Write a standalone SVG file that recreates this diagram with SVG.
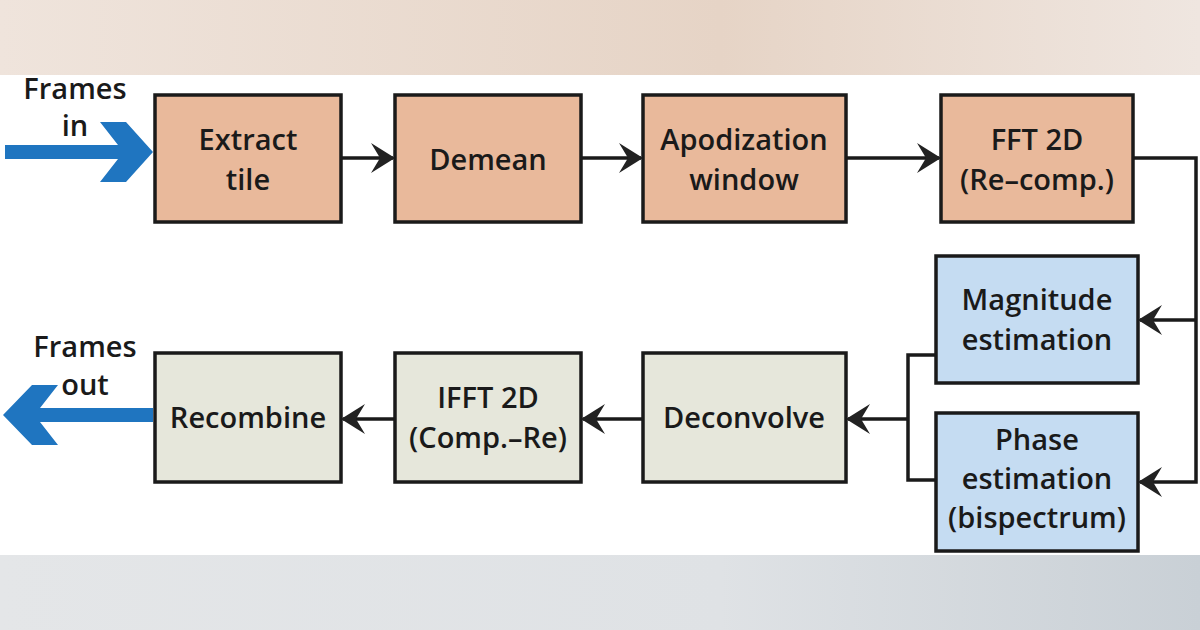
<svg xmlns="http://www.w3.org/2000/svg" width="1200" height="630" viewBox="0 0 1200 630">
<defs>
<linearGradient id="top" x1="0" x2="1"><stop offset="0" stop-color="#efe4dc"/><stop offset="0.6" stop-color="#e6d4c6"/><stop offset="1" stop-color="#efe6e0"/></linearGradient>
<linearGradient id="bot" x1="0" x2="1"><stop offset="0" stop-color="#e4e6e8"/><stop offset="0.6" stop-color="#dfe2e5"/><stop offset="1" stop-color="#c9d0d6"/></linearGradient>
<marker id="chev" viewBox="0 0 24 30" refX="22" refY="15" markerWidth="24" markerHeight="30" markerUnits="userSpaceOnUse" orient="auto">
<path d="M0,0 L24,15 L0,30 L9,15 Z" fill="#222"/>
</marker>
<style>
.b{stroke:#1a1a1a;stroke-width:3.5}
.o{fill:#e9b99b}.g{fill:#e6e7db}.bl{fill:#c5dcf2}
text{font-family:"Open Sans","Liberation Sans",sans-serif;font-weight:600;font-size:29px;fill:#1a1a1a;text-anchor:middle}
.c{fill:none;stroke:#1a1a1a;stroke-width:3.5}
</style>
</defs>
<rect width="1200" height="630" fill="#fff"/>
<rect width="1200" height="75" fill="url(#top)"/>
<rect y="555" width="1200" height="75" fill="url(#bot)"/>
<g id="connectors">
<path class="c" d="M341,158 H393" marker-end="url(#chev)"/>
<path class="c" d="M581,158 H641" marker-end="url(#chev)"/>
<path class="c" d="M846,158 H939" marker-end="url(#chev)"/>
<path class="c" d="M1133,158 H1196 V482 H1140" marker-end="url(#chev)"/>
<path class="c" d="M1196,320 H1140" marker-end="url(#chev)"/>
<path class="c" d="M936,355 H908 V480 H936"/>
<path class="c" d="M908,419 H848" marker-end="url(#chev)"/>
<path class="c" d="M643,419 H583" marker-end="url(#chev)"/>
<path class="c" d="M395,419 H343" marker-end="url(#chev)"/>
<path d="M5,145 H118 L100,122 H126 L153,152 L126,182 H100 L118,159 H5 Z" fill="#1f75c0"/>
<path d="M153,408 H40 L58,385 H32 L3,415 L32,445 H58 L40,422 H153 Z" fill="#1f75c0"/>
</g>
<text x="75" y="99">Frames</text><text x="75" y="136">in</text>
<text x="85" y="357">Frames</text><text x="85" y="395">out</text>
<g id="extract"><rect class="b o" x="155" y="95" width="186" height="127"/><text x="248" y="150">Extract</text><text x="248" y="190">tile</text></g>
<g id="demean"><rect class="b o" x="395" y="95" width="186" height="127"/><text x="488" y="170">Demean</text></g>
<g id="apod"><rect class="b o" x="643" y="95" width="203" height="127"/><text x="744" y="150">Apodization</text><text x="744" y="190">window</text></g>
<g id="fft"><rect class="b o" x="941" y="95" width="192" height="127"/><text x="1037" y="150">FFT 2D</text><text x="1037" y="190">(Re–comp.)</text></g>
<g id="mag"><rect class="b bl" x="936" y="256" width="202" height="127"/><text x="1037" y="310">Magnitude</text><text x="1037" y="350">estimation</text></g>
<g id="phase"><rect class="b bl" x="936" y="413" width="202" height="138"/><text x="1037" y="450">Phase</text><text x="1037" y="489">estimation</text><text x="1037" y="528">(bispectrum)</text></g>
<g id="deconv"><rect class="b g" x="643" y="353" width="203" height="129"/><text x="744" y="428">Deconvolve</text></g>
<g id="ifft"><rect class="b g" x="395" y="353" width="186" height="129"/><text x="488" y="408">IFFT 2D</text><text x="488" y="448">(Comp.–Re)</text></g>
<g id="recomb"><rect class="b g" x="155" y="353" width="186" height="129"/><text x="248" y="428">Recombine</text></g>
</svg>
